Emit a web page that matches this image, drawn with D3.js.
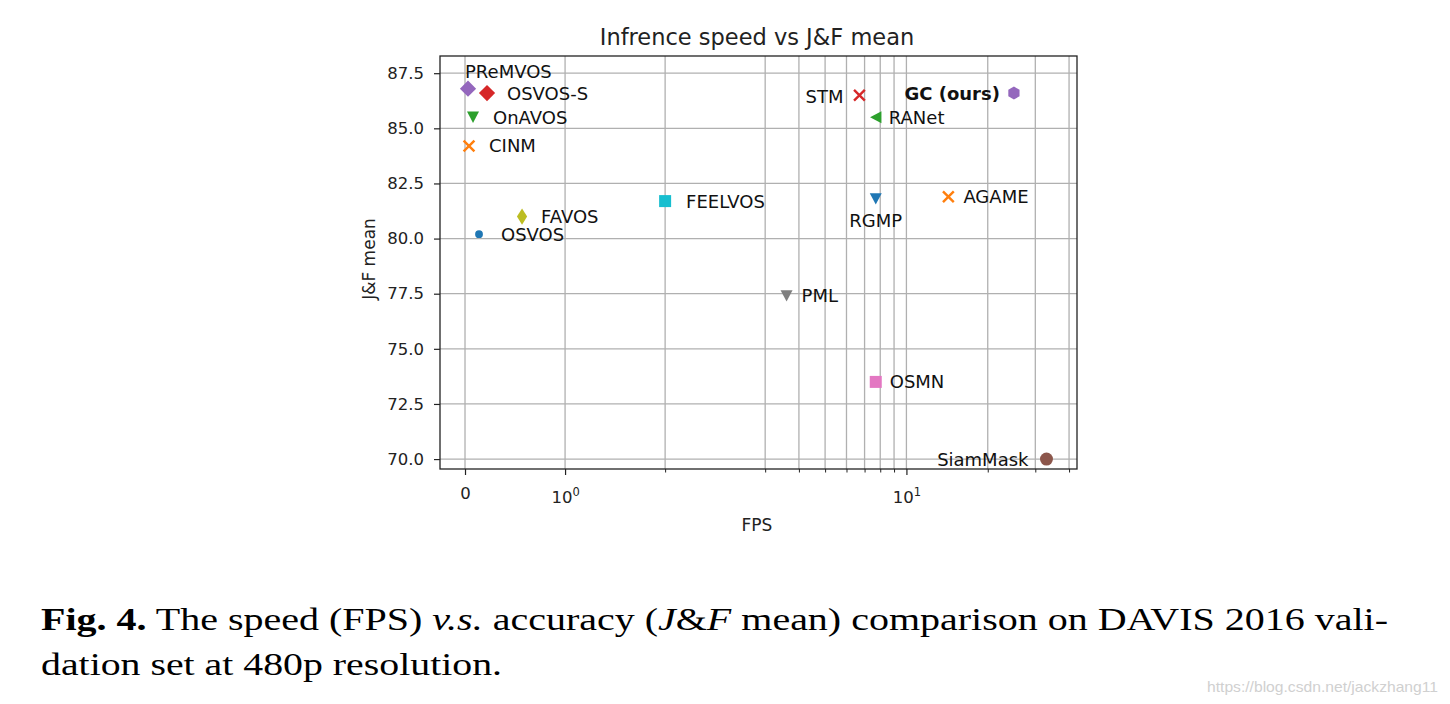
<!DOCTYPE html>
<html>
<head>
<meta charset="utf-8">
<script src="https://cdn.jsdelivr.net/npm/d3@7"></script>
<style>
  html, body { margin: 0; padding: 0; background: #fff; }
  svg { display: block; }
  .mpl { font-family: "DejaVu Sans", sans-serif; }
  .cap { font-family: "Liberation Serif", "DejaVu Serif", serif; }
  .wm { font-family: "Liberation Sans", Arial, sans-serif; }
</style>
</head>
<body>
<svg id="chart" width="1450" height="704"></svg>
<script>
// ---------------- data ----------------
const methods = ["PReMVOS", "OSVOS-S", "OnAVOS", "CINM", "FAVOS", "OSVOS", "FEELVOS",
                 "STM", "GC (ours)", "RANet", "RGMP", "AGAME", "PML", "OSMN", "SiamMask"];
const fpsValues = [0.03, 0.22, 0.08, 0.04, 0.57, 0.14, 2.0, 6.7, 25, 7.7, 7.7, 14.3, 3.6, 7.7, 33];
const jfMean = [86.8, 86.6, 85.5, 84.2, 81.0, 80.2, 81.7, 86.5, 86.6, 85.5, 81.8, 81.9, 77.4, 73.5, 70.0];

const yTickValues = [70.0, 72.5, 75.0, 77.5, 80.0, 82.5, 85.0, 87.5];
const xMajorTicks = [0, 1, 10];
const xMajorLabels = [["0", ""], ["10", "0"], ["10", "1"]];
const xMinorTicks = [2, 3, 4, 5, 6, 7, 8, 9, 20, 30, 40];

const titleText = "Infrence speed vs J&F mean";
const xLabelText = "FPS";
const yLabelText = "J&F mean";

// ---------------- styles ----------------
const markerShapes = ["D", "D", "v", "x", "d", ".", "s", "x", "h", "<", "v", "x", "v", "s", "o"];
const markerColors = ["#9467bd", "#d62728", "#2ca02c", "#ff7f0e", "#bcbd22", "#1f77b4", "#17becf",
                      "#d62728", "#9467bd", "#2ca02c", "#1f77b4", "#ff7f0e", "#7f7f7f", "#e377c2", "#8c564b"];
// label offset in px from the marker: [dx, dy, anchor]
const labelOffsets = [[-3, -17, "start"], [20, 0, "start"], [20, 0, "start"], [20, 0, "start"],
                      [19, 0, "start"], [22, 0, "start"], [21, 0, "start"], [-16, 1, "end"],
                      [-14, 0, "end"], [13, 0, "start"], [0, 22, "middle"], [15, 0, "start"],
                      [15, 0, "start"], [14, 0, "start"], [-18, 0, "end"]];

// ---------------- layout ----------------
const plot = { left: 440, right: 1077, top: 56, bottom: 469 };
const svg = d3.select("#chart");
svg.append("rect").attr("width", 1450).attr("height", 704).attr("fill", "#fff");

// matplotlib-style symlog transform (base 10, linthresh 3, linscale 1)
const LINTHRESH = 3, LINSCALE_ADJ = 1 / (1 - 1 / 10);
function symlogT(a) {
  const s = Math.sign(a), v = Math.abs(a);
  if (v <= LINTHRESH) return a * LINSCALE_ADJ;
  return s * LINTHRESH * (LINSCALE_ADJ + Math.log10(v / LINTHRESH));
}
const xDomain = [-0.25, 42.8];
const xLin = d3.scaleLinear().domain(xDomain.map(symlogT)).range([plot.left, plot.right]);
const x = v => xLin(symlogT(v));
const y = d3.scaleLinear().domain([69.55, 88.28]).range([plot.bottom, plot.top]);

const gridColor = "#b0b0b0";
const g = svg.append("g").attr("class", "mpl");

// grid lines
g.append("g").selectAll("line").data(xMajorTicks.concat(xMinorTicks)).join("line")
  .attr("x1", d => x(d)).attr("x2", d => x(d))
  .attr("y1", plot.top).attr("y2", plot.bottom)
  .attr("stroke", gridColor).attr("stroke-width", 1.3);
g.append("g").selectAll("line").data(yTickValues).join("line")
  .attr("x1", plot.left).attr("x2", plot.right)
  .attr("y1", d => y(d)).attr("y2", d => y(d))
  .attr("stroke", gridColor).attr("stroke-width", 1.3);

// axes
const yAxis = g.append("g").attr("transform", `translate(${plot.left},0)`)
  .call(d3.axisLeft(y).tickValues(yTickValues).tickFormat(d3.format(".1f")).tickSize(6).tickPadding(10));
yAxis.attr("font-family", null).attr("font-size", null);
yAxis.select(".domain").remove();
yAxis.selectAll("text").attr("font-size", 16.5).attr("fill", "#222");
yAxis.selectAll("line").attr("stroke", "#222").attr("stroke-width", 1.2);

const xAxis = g.append("g").attr("transform", `translate(0,${plot.bottom})`)
  .call(d3.axisBottom(xLin).tickValues(xMajorTicks.map(symlogT)).tickFormat("").tickSize(6).tickPadding(12));
xAxis.attr("font-family", null).attr("font-size", null);
xAxis.select(".domain").remove();
xAxis.selectAll("line").attr("stroke", "#222").attr("stroke-width", 1.2);
xAxis.selectAll(".tick text").each(function (d, i) {
  const t = d3.select(this).attr("font-size", 16.5).attr("fill", "#222");
  const lab = xMajorLabels[i];
  if (lab[1] === "") {
    t.text(lab[0]);
  } else {
    t.attr("y", 22).text(null);
    t.append("tspan").text(lab[0]);
    t.append("tspan").attr("font-size", 11.5).attr("dy", -7).text(lab[1]);
  }
});
const xMinorAxis = g.append("g").attr("transform", `translate(0,${plot.bottom})`)
  .call(d3.axisBottom(xLin).tickValues(xMinorTicks.map(symlogT)).tickFormat("").tickSize(3.5));
xMinorAxis.select(".domain").remove();
xMinorAxis.selectAll("line").attr("stroke", "#222").attr("stroke-width", 1);

// frame
g.append("rect").attr("x", plot.left).attr("y", plot.top)
  .attr("width", plot.right - plot.left).attr("height", plot.bottom - plot.top)
  .attr("fill", "none").attr("stroke", "#222").attr("stroke-width", 1.3);

// markers
function markerPath(shape, r) {
  const p = d3.path();
  const poly = pts => { p.moveTo(pts[0][0], pts[0][1]); pts.slice(1).forEach(q => p.lineTo(q[0], q[1])); p.closePath(); };
  switch (shape) {
    case "D": poly([[0, -r * 1.35], [r * 1.35, 0], [0, r * 1.35], [-r * 1.35, 0]]); break;
    case "d": poly([[0, -r * 1.35], [r * 0.85, 0], [0, r * 1.35], [-r * 0.85, 0]]); break;
    case "v": poly([[-r, -r * 0.95], [r, -r * 0.95], [0, r * 0.95]]); break;
    case "<": poly([[-r * 0.95, 0], [r * 0.95, -r], [r * 0.95, r]]); break;
    case "s": poly([[-r, -r], [r, -r], [r, r], [-r, r]]); break;
    case "h": poly(d3.range(6).map(k => { const a = -Math.PI / 2 + k * Math.PI / 3; return [r * 1.08 * Math.cos(a), r * 1.08 * Math.sin(a)]; })); break;
    case "o": p.arc(0, 0, r * 1.08, 0, 2 * Math.PI); break;
    case ".": p.arc(0, 0, r * 0.65, 0, 2 * Math.PI); break;
    case "x": p.moveTo(-r, -r); p.lineTo(r, r); p.moveTo(-r, r); p.lineTo(r, -r); break;
  }
  return p.toString();
}
const R = 6;
g.append("g").selectAll("path").data(methods).join("path")
  .attr("transform", (d, i) => `translate(${x(fpsValues[i])},${y(jfMean[i])})`)
  .attr("d", (d, i) => markerPath(markerShapes[i], markerShapes[i] === "x" ? 5.4 : R))
  .attr("fill", (d, i) => markerShapes[i] === "x" ? "none" : markerColors[i])
  .attr("stroke", (d, i) => markerShapes[i] === "x" ? markerColors[i] : "none")
  .attr("stroke-width", 2.4);

// annotations
g.append("g").selectAll("text").data(methods).join("text")
  .attr("x", (d, i) => x(fpsValues[i]) + labelOffsets[i][0])
  .attr("y", (d, i) => y(jfMean[i]) + labelOffsets[i][1])
  .attr("dy", "0.36em")
  .attr("text-anchor", (d, i) => labelOffsets[i][2])
  .attr("font-size", 18)
  .attr("font-weight", d => d === "GC (ours)" ? "bold" : "normal")
  .attr("fill", "#111")
  .text(d => d);

// title & axis labels
g.append("text").attr("x", 757).attr("y", 45)
  .attr("text-anchor", "middle").attr("font-size", 22.5).attr("fill", "#222").text(titleText);
g.append("text").attr("x", 757).attr("y", 531)
  .attr("text-anchor", "middle").attr("font-size", 17).attr("fill", "#222").text(xLabelText);
g.append("text").attr("transform", "translate(375,259) rotate(-90)")
  .attr("text-anchor", "middle").attr("font-size", 17).attr("fill", "#222").text(yLabelText);

// caption
const cap = svg.append("g").attr("class", "cap").attr("fill", "#000");
const line1 = cap.append("text").attr("x", 41).attr("y", 630).attr("font-size", 32)
  .attr("textLength", 1347).attr("lengthAdjust", "spacingAndGlyphs");
line1.append("tspan").attr("font-weight", "bold").text("Fig. 4.");
line1.append("tspan").text(" The speed (FPS) ");
line1.append("tspan").attr("font-style", "italic").text("v.s.");
line1.append("tspan").text(" accuracy (");
line1.append("tspan").attr("font-style", "italic").text("J");
line1.append("tspan").text("&");
line1.append("tspan").attr("font-style", "italic").text("F");
line1.append("tspan").text(" mean) comparison on DAVIS 2016 vali-");
cap.append("text").attr("x", 41).attr("y", 675).attr("font-size", 32)
  .attr("textLength", 461).attr("lengthAdjust", "spacingAndGlyphs")
  .text("dation set at 480p resolution.");

// watermark
svg.append("text").attr("class", "wm").attr("x", 1207).attr("y", 692).attr("font-size", 15)
  .attr("fill", "#d0d0d0")
  .attr("textLength", 231).attr("lengthAdjust", "spacingAndGlyphs")
  .text("https://blog.csdn.net/jackzhang11");
</script>
</body>
</html>
